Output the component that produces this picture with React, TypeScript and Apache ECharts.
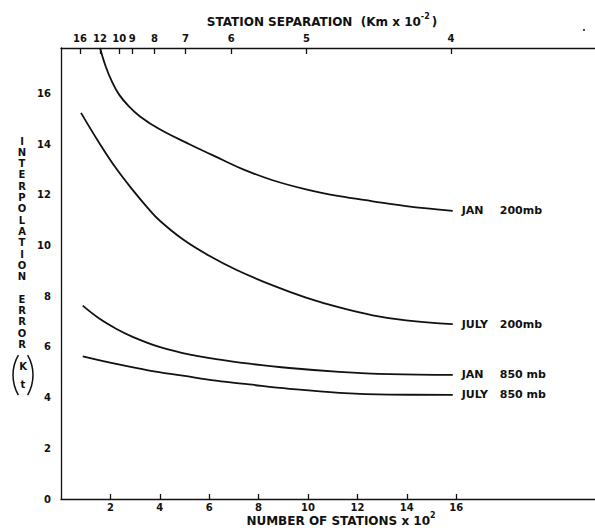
import React, { useEffect, useRef } from "react";
import * as echarts from "echarts";

// Number of stations (x 10^2) vs interpolation error (Kt)
const jan200: number[][] = [
  [1.58, 17.8], [1.8, 17.1], [2.05, 16.5], [2.36, 15.95], [2.75, 15.5], [3.2, 15.1],
  [3.98, 14.6], [5.2, 14.0], [6.55, 13.38], [7.4, 13.0], [8.57, 12.58], [9.92, 12.22],
  [11.27, 11.95], [12.62, 11.75], [13.97, 11.56], [15.86, 11.37],
];
const july200: number[][] = [
  [0.81, 15.24], [1.55, 14.05], [2.23, 13.05], [2.9, 12.2], [3.5, 11.5], [3.98, 11.0],
  [4.93, 10.25], [6.0, 9.6], [7.09, 9.05], [8.57, 8.43], [9.92, 7.95],
  [11.27, 7.56], [12.62, 7.25], [13.97, 7.05], [15.86, 6.9],
];
const jan850: number[][] = [
  [0.88, 7.63], [1.55, 7.12], [2.23, 6.72], [2.9, 6.4], [3.98, 6.0], [4.93, 5.76],
  [6.28, 5.52], [7.63, 5.34], [9.25, 5.17], [11.27, 5.02], [13.3, 4.93], [15.86, 4.9],
];
const july850: number[][] = [
  [0.88, 5.63], [2.23, 5.33], [3.58, 5.07], [4.93, 4.87], [6.28, 4.67], [7.63, 4.52],
  [9.25, 4.35], [11.27, 4.19], [13.3, 4.12], [15.86, 4.11],
];

const seriesNames = ["JAN 200mb", "JULY 200mb", "JAN 850 mb", "JULY 850 mb"];
const labelMonths = ["JAN", "JULY", "JAN", "JULY"];
const labelLevels = ["200mb", "200mb", "850 mb", "850 mb"];

const bottomTicks = [2, 4, 6, 8, 10, 12, 14, 16];
const leftTicks = [0, 2, 4, 6, 8, 10, 12, 14, 16];
// station separation (Km x 10^-2) ticks on top, placed at number-of-stations positions
const topTickLabels = ["16", "12", "10", "9", "8", "7", "6", "5", "4"];
const topTickPositions = [0.77, 1.58, 2.36, 2.88, 3.78, 5.04, 6.89, 9.94, 15.79];

const yTitleLetters = "INTERPOLATION ERROR";

const FONT = "DejaVu Sans";

export default function App() {
  const ref = useRef<HTMLDivElement>(null);
  useEffect(() => {
    if (!ref.current) return;
    const chart = echarts.init(ref.current, null, { renderer: "svg" });
    const xMin = 0;
    const xMax = 534 / 24.7;
    const data = [jan200, july200, jan850, july850];

    const letterEls: any[] = [];
    let yy = 141;
    for (const ch of yTitleLetters.split("")) {
      if (ch !== " ") {
        letterEls.push({
          type: "text",
          x: 22,
          y: yy,
          style: {
            text: ch,
            font: `bold 10px "${FONT}"`,
            fill: "#111",
            align: "center",
            verticalAlign: "middle",
          },
        });
      }
      yy += 11.3;
    }

    const tickFont = { color: "#111", fontFamily: FONT, fontWeight: "bold", fontSize: 10 };

    chart.setOption({
      animation: false,
      backgroundColor: "#fff",
      grid: { left: 61, right: 0, top: 48, bottom: 32, containLabel: false },
      xAxis: [
        {
          type: "value",
          min: xMin,
          max: xMax,
          position: "bottom",
          axisLine: { show: true, onZero: false, lineStyle: { color: "#111", width: 1.3 } },
          axisTick: {
            show: true,
            inside: true,
            length: 5,
            customValues: bottomTicks,
            lineStyle: { color: "#111", width: 1.3 },
          },
          axisLabel: { customValues: bottomTicks, margin: 3, ...tickFont },
          splitLine: { show: false },
        },
        {
          type: "value",
          min: xMin,
          max: xMax,
          position: "top",
          axisLine: { show: true, onZero: false, lineStyle: { color: "#111", width: 1.3 } },
          axisTick: {
            show: true,
            inside: true,
            length: 6,
            customValues: topTickPositions,
            lineStyle: { color: "#111", width: 1.3 },
          },
          axisLabel: {
            customValues: topTickPositions,
            margin: 5,
            ...tickFont,
            formatter: (v: number) => {
              let best = 0;
              let bd = Infinity;
              topTickPositions.forEach((p, i) => {
                const d = Math.abs(p - v);
                if (d < bd) {
                  bd = d;
                  best = i;
                }
              });
              return topTickLabels[best];
            },
          },
          splitLine: { show: false },
        },
      ],
      yAxis: {
        type: "value",
        min: 0,
        max: 17.8,
        axisLine: { show: true, onZero: false, lineStyle: { color: "#111", width: 1.3 } },
        axisTick: { show: false },
        axisLabel: { customValues: leftTicks, margin: 10, ...tickFont },
        splitLine: { show: false },
      },
      series: data.map((d, i) => ({
        type: "line",
        name: seriesNames[i],
        data: d,
        xAxisIndex: 0,
        smooth: 0.4,
        showSymbol: false,
        symbol: "none",
        clip: true,
        lineStyle: { color: "#111", width: 1.8 },
        endLabel: {
          show: true,
          distance: 9,
          formatter: () => `{m|${labelMonths[i]}}{l|${labelLevels[i]}}`,
          rich: {
            m: { fontFamily: FONT, fontWeight: "bold", fontSize: 11, color: "#111", width: 38 },
            l: { fontFamily: FONT, fontWeight: "bold", fontSize: 11, color: "#111" },
          },
        },
      })),
      graphic: [
        {
          type: "text",
          x: 322,
          y: 20,
          style: {
            text: "{a|STATION SEPARATION  (Km x 10}{s|-2}{a|)}",
            align: "center",
            verticalAlign: "middle",
            rich: {
              a: { font: `bold 12px "${FONT}"`, fill: "#111", lineHeight: 16, verticalAlign: "bottom" },
              s: { font: `bold 8px "${FONT}"`, fill: "#111", lineHeight: 16, verticalAlign: "top", padding: [0, 2, 6, 0] },
            },
          },
        },
        {
          type: "text",
          x: 341,
          y: 519,
          style: {
            text: "{a|NUMBER OF STATIONS x 10}{s|2}",
            align: "center",
            verticalAlign: "middle",
            rich: {
              a: { font: `bold 12px "${FONT}"`, fill: "#111", lineHeight: 16, verticalAlign: "bottom" },
              s: { font: `bold 8px "${FONT}"`, fill: "#111", lineHeight: 16, verticalAlign: "top", padding: [0, 0, 7, 0] },
            },
          },
        },
        ...letterEls,
        {
          type: "text",
          x: 23,
          y: 366,
          style: { text: "K", font: `bold 10px "${FONT}"`, fill: "#111", align: "center", verticalAlign: "middle" },
        },
        {
          type: "text",
          x: 23,
          y: 384,
          style: { text: "t", font: `bold 10px "${FONT}"`, fill: "#111", align: "center", verticalAlign: "middle" },
        },
        {
          type: "arc",
          shape: { cx: 53, cy: 375, r: 40, startAngle: (5 * Math.PI) / 6, endAngle: (7 * Math.PI) / 6, clockwise: true },
          style: { stroke: "#111", lineWidth: 1.5, fill: null },
        },
        {
          type: "arc",
          shape: { cx: -7, cy: 375, r: 40, startAngle: -Math.PI / 6, endAngle: Math.PI / 6, clockwise: true },
          style: { stroke: "#111", lineWidth: 1.5, fill: null },
        },
        {
          type: "circle",
          shape: { cx: 584, cy: 30, r: 1.1 },
          style: { fill: "#333" },
        },
      ],
    });
    return () => chart.dispose();
  }, []);
  return (
    <div
      ref={ref}
      style={{ position: "fixed", left: 0, top: 0, width: 595, height: 531, background: "#fff" }}
    />
  );
}
